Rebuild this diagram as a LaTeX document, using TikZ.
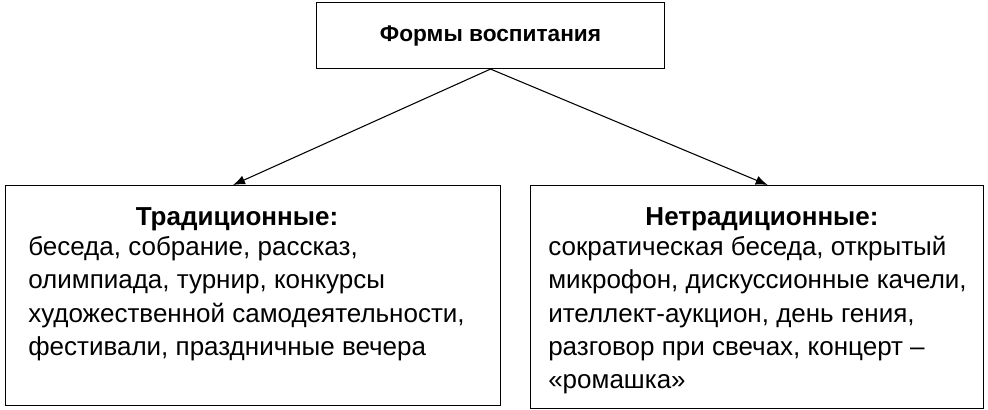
\documentclass[tikz,border=0pt]{standalone}
\usepackage{fontspec}
\setmainfont{Liberation Sans}
\usetikzlibrary{arrows.meta}
\begin{document}
\begin{tikzpicture}[x=0.75pt,y=-0.75pt,
    box/.style={draw,line width=0.8pt,anchor=north west,inner sep=0pt},
    head/.style={font=\fontsize{19.5}{23}\selectfont\bfseries},
    items/.style={font=\fontsize{19.5}{25}\selectfont,align=left,anchor=north west,inner sep=0pt},
    link/.style={-{Latex[length=9pt,width=7pt]},line width=0.8pt}]
  \useasboundingbox (0,0) rectangle (988,410);
  \node[box,minimum width=348*0.75pt,minimum height=66*0.75pt] (forms) at (316,2) {};
  \node[head,font=\fontsize{17}{21}\selectfont\bfseries] at (forms.center) {Формы воспитания};

  \node[box,minimum width=495*0.75pt,minimum height=220*0.75pt] (trad) at (5,185) {};
  \node[head] (tradhead) at (237,219) {Традиционные:};
  \node[items] (tradlist) at (28,236) {беседа, собрание, рассказ,\\олимпиада, турнир, конкурсы\\художественной самодеятельности,\\фестивали, праздничные вечера};

  \node[box,minimum width=453*0.75pt,minimum height=223*0.75pt] (nontrad) at (530,185) {};
  \node[head] (nontradhead) at (762,219) {Нетрадиционные:};
  \node[items] (nontradlist) at (548,236) {сократическая беседа, открытый\\микрофон, дискуссионные качели,\\ителлект-аукцион, день гения,\\разговор при свечах, концерт --\\«ромашка»};

  \draw[link] (forms.south) -- ([xshift=-15pt]trad.north);
  \draw[link] (forms.south) -- ([xshift=8pt]nontrad.north);
\end{tikzpicture}
\end{document}
